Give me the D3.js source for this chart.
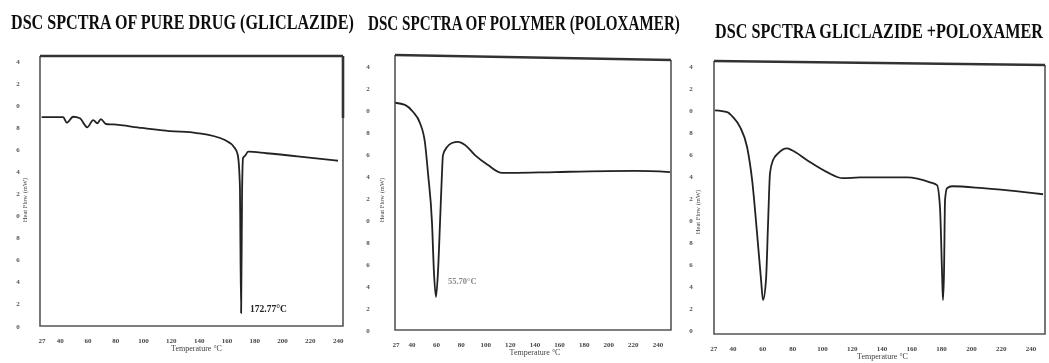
<!DOCTYPE html>
<html>
<head>
<meta charset="utf-8">
<script src="https://cdn.jsdelivr.net/npm/d3@7"></script>
<style>
  body { margin: 0; background: #fff; }
  svg { display: block; }
</style>
</head>
<body>
<svg id="chart" width="1049" height="363"></svg>
<script>
// shared tick labels
const xTickValues = [27, 40, 60, 80, 100, 120, 140, 160, 180, 200, 220, 240];
const yTickValues = d3.range(0, 13);
const yTickLabels = ["0", "2", "4", "6", "8", "0", "2", "4", "6", "8", "0", "2", "4"];

// pure drug (gliclazide)
const drugTemp = [26.7, 42.2, 44.7, 49.4, 54.2, 59.5, 63.8, 66.7, 69.3, 72.9, 78.0, 98.8, 118.9, 138.3, 158.5,
  165.6, 167.8, 169.3, 170.2, 170.9, 171.6, 173.2, 175.2, 188.4, 212.4, 239.9];
const drugFlow = [9.49, 9.49, 9.24, 9.51, 9.44, 9.03, 9.36, 9.21, 9.40, 9.18, 9.16, 9.00, 8.86, 8.77, 8.45,
  8.09, 7.77, 6.41, 0.59, 6.18, 7.64, 7.75, 7.92, 7.85, 7.70, 7.51];

// polymer (poloxamer)
const polyTemp = [26.5, 34.3, 40.8, 46.5, 50.6, 53.0, 56.3, 57.9, 59.5, 61.1, 62.8, 64.4, 65.2, 68.5, 72.5,
  77.4, 83.1, 91.2, 101.8, 113.2, 121.3, 156.3, 221.3, 249.8];
const polyFlow = [10.33, 10.23, 9.92, 9.41, 8.50, 7.14, 4.86, 2.59, 1.50, 2.59, 4.86, 7.14, 7.95, 8.32, 8.50,
  8.55, 8.41, 7.95, 7.50, 7.14, 7.14, 7.18, 7.23, 7.18];

// gliclazide + poloxamer
const mixTemp = [27.9, 36.0, 40.0, 44.7, 49.4, 52.8, 56.1, 58.8, 60.1, 62.1, 63.5, 64.8, 66.8, 70.2, 76.2,
  79.6, 89.7, 103.1, 113.8, 125.2, 156.8, 172.2, 176.9, 178.9, 180.3, 180.9, 181.6, 182.3, 183.6, 187.0,
  207.8, 248.1];
const mixFlow = [10.32, 10.24, 10.01, 9.55, 8.63, 7.10, 4.65, 2.49, 1.57, 2.49, 5.12, 7.42, 8.02, 8.34, 8.57,
  8.48, 8.02, 7.47, 7.19, 7.23, 7.23, 7.00, 6.87, 5.85, 2.81, 1.57, 2.81, 6.18, 6.73, 6.82,
  6.73, 6.45];

const panels = [
  {
    title: "DSC SPCTRA OF PURE DRUG (GLICLAZIDE)", tx: 11, ty: 29, tw: 343,
    left: 40, right: 343, top: 56, bottom: 326, tilt: 0, xTitleDx: 5,
    xDomain: [25.5, 243.5], yDomain: [0, 12.27],
    temp: drugTemp, flow: drugFlow,
    leftAxis: true, yLabelX: 18, yTitleX: 27, yTitleY: 200, rightAxis: false,
    note: "172.77°C", noteDx: 9, noteDy: -1, noteColor: "#222", noteSize: 9.5
  },
  {
    title: "DSC SPCTRA OF POLYMER (POLOXAMER)", tx: 368, ty: 30, tw: 312,
    left: 395, right: 671, top: 55, bottom: 330, tilt: 5, xTitleDx: 2,
    xDomain: [26.2, 250.6], yDomain: [0, 12.5],
    temp: polyTemp, flow: polyFlow,
    leftAxis: true, yLabelX: 368, yTitleX: 384, yTitleY: 200,
    rightAxis: true, yLabelRX: 691, yTitleRX: 700, yTitleRY: 212,
    note: "55.70°C", noteDx: 12, noteDy: -13, noteColor: "#888", noteSize: 8.5
  },
  {
    title: "DSC SPCTRA GLICLAZIDE +POLOXAMER", tx: 715, ty: 38, tw: 328,
    left: 714, right: 1045, top: 61, bottom: 334, tilt: 4, xTitleDx: 3,
    xDomain: [27.2, 249.4], yDomain: [0, 12.6],
    temp: mixTemp, flow: mixFlow,
    leftAxis: false, rightAxis: false,
    note: null
  }
];

const svg = d3.select("#chart");
svg.append("defs").append("filter")
  .attr("id", "soft")
  .append("feGaussianBlur")
  .attr("stdDeviation", 0.45);

const root = svg.append("g").attr("filter", "url(#soft)");

panels.forEach(p => {
  const g = root.append("g");

  const x = d3.scaleLinear().domain(p.xDomain).range([p.left, p.right]);
  const y = d3.scaleLinear().domain(p.yDomain).range([p.bottom, p.top]);

  // title, squeezed horizontally like the scanned heading
  const title = g.append("text")
    .attr("x", 0)
    .attr("y", 0)
    .style("font-family", "'Liberation Serif', 'DejaVu Serif', serif")
    .style("font-weight", "bold")
    .style("font-size", "20px")
    .style("fill", "#111")
    .text(p.title);
  const natural = title.node().getComputedTextLength();
  title.attr("transform", `translate(${p.tx},${p.ty}) scale(${p.tw / natural},1)`);

  // frame (top edge a bit skewed like the scan)
  g.append("path")
    .attr("d", `M${p.left},${p.top}L${p.left},${p.bottom}L${p.right},${p.bottom}L${p.right},${p.top + p.tilt}`)
    .attr("fill", "none")
    .attr("stroke", "#555")
    .attr("stroke-width", 1.6);
  g.append("line")
    .attr("x1", p.left).attr("y1", p.top)
    .attr("x2", p.right).attr("y2", p.top + p.tilt)
    .attr("stroke", "#333")
    .attr("stroke-width", 2.6);

  if (p.tilt === 0) {
    // thick dark piece at top right of the first frame
    g.append("line")
      .attr("x1", p.right).attr("y1", p.top)
      .attr("x2", p.right).attr("y2", p.top + 62)
      .attr("stroke", "#333")
      .attr("stroke-width", 2.6);
  }

  // x tick labels
  g.selectAll(".xt")
    .data(xTickValues)
    .enter()
    .append("text")
    .attr("x", d => x(d))
    .attr("y", p.bottom + 17)
    .attr("text-anchor", "middle")
    .style("font-family", "'Liberation Serif', serif")
    .style("font-weight", "bold")
    .style("font-size", "7px")
    .style("fill", "#444")
    .text(d => d);

  g.append("text")
    .attr("x", (p.left + p.right) / 2 + p.xTitleDx)
    .attr("y", p.bottom + 25)
    .attr("text-anchor", "middle")
    .style("font-family", "'Liberation Serif', serif")
    .style("font-size", "8px")
    .style("fill", "#444")
    .text("Temperature °C");

  // y tick labels
  const yLabels = (cx) => g.selectAll(null)
    .data(yTickValues)
    .enter()
    .append("text")
    .attr("x", cx)
    .attr("y", d => y(d) + 2.5)
    .attr("text-anchor", "middle")
    .style("font-family", "'Liberation Serif', serif")
    .style("font-weight", "bold")
    .style("font-size", "7px")
    .style("fill", "#555")
    .text((d, i) => yTickLabels[i]);

  const yTitle = (cx, cy) => g.append("text")
    .attr("transform", `translate(${cx},${cy}) rotate(-90)`)
    .attr("text-anchor", "middle")
    .style("font-family", "'Liberation Serif', serif")
    .style("font-size", "6.5px")
    .style("fill", "#444")
    .text("Heat Flow (mW)");

  if (p.leftAxis) {
    yLabels(p.yLabelX);
    yTitle(p.yTitleX, p.yTitleY);
  }
  if (p.rightAxis) {
    yLabels(p.yLabelRX);
    yTitle(p.yTitleRX, p.yTitleRY);
  }

  // thermogram
  const pts = p.temp.map((t, i) => [t, p.flow[i]]);
  const line = d3.line()
    .x(d => x(d[0]))
    .y(d => y(d[1]))
    .curve(d3.curveMonotoneX);

  g.append("path")
    .datum(pts)
    .attr("d", line)
    .attr("fill", "none")
    .attr("stroke", "#222")
    .attr("stroke-width", 1.8)
    .attr("stroke-linejoin", "round");

  if (p.note) {
    const low = d3.minIndex(p.flow);
    g.append("text")
      .attr("x", x(p.temp[low]) + p.noteDx)
      .attr("y", y(p.flow[low]) + p.noteDy)
      .style("font-family", "'Liberation Serif', serif")
      .style("font-weight", "bold")
      .style("font-size", p.noteSize + "px")
      .style("fill", p.noteColor)
      .text(p.note);
  }
});
</script>
</body>
</html>
